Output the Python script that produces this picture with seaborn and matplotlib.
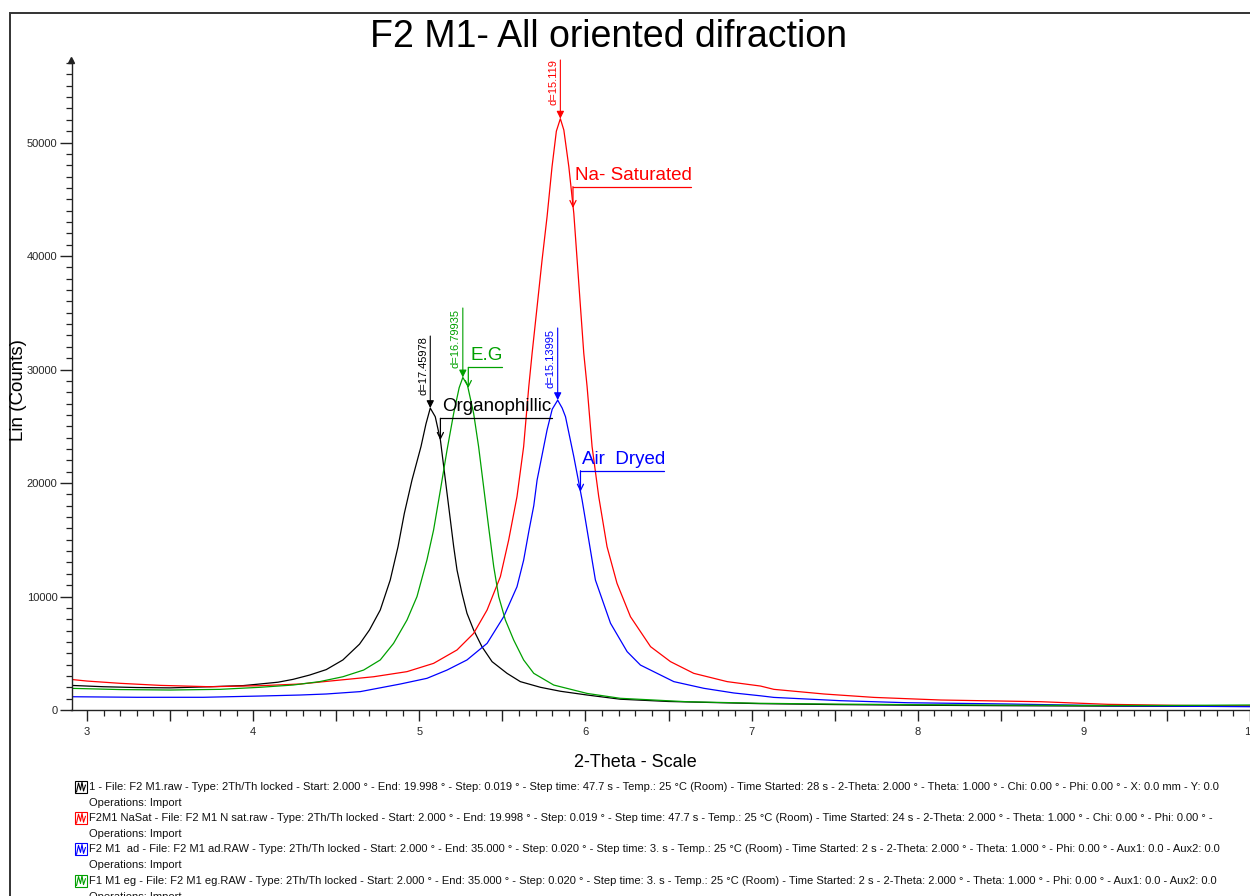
import numpy as np
import pandas as pd
import matplotlib
matplotlib.use("Agg")
import matplotlib.pyplot as plt
import seaborn as sns
from matplotlib.patches import Rectangle
from matplotlib.lines import Line2D
from matplotlib.ticker import MultipleLocator
from matplotlib.transforms import offset_copy

# ---------------- scan data (2-Theta in degrees, Lin counts) ----------------
organo_2theta = [2.90, 3.10, 3.30, 3.50, 3.74, 3.94, 4.04, 4.15, 4.24, 4.34, 4.44,
                 4.54, 4.64, 4.70, 4.765, 4.825, 4.872, 4.91, 4.956, 5.01, 5.04,
                 5.066, 5.096, 5.127, 5.147, 5.167, 5.187, 5.207, 5.227, 5.257,
                 5.287, 5.327, 5.377, 5.438, 5.528, 5.608, 5.729, 5.85, 6.01,
                 6.21, 6.50, 7.05, 7.50, 8.00, 8.50, 9.00, 9.50, 10.0]
organo_counts = [2170, 2050, 1980, 1950, 2050, 2150, 2290, 2450, 2700, 3080, 3560,
                 4410, 5800, 7050, 8810, 11450, 14390, 17330, 20260, 23200, 25200,
                 26600, 25840, 23790, 21440, 19090, 16740, 14390, 12330, 10280,
                 8520, 7050, 5580, 4260, 3230, 2500, 2000, 1650, 1320,
                 950, 750, 560, 480, 420, 380, 350, 330, 340]

nasat_2theta = [2.90, 3.00, 3.20, 3.44, 3.74, 4.04, 4.283, 4.524, 4.725, 4.926,
                5.086, 5.227, 5.327, 5.408, 5.488, 5.538, 5.588, 5.628, 5.659,
                5.679, 5.709, 5.739, 5.769, 5.799, 5.825, 5.849, 5.87, 5.90, 5.93,
                5.95, 5.97, 5.99, 6.01, 6.04, 6.08, 6.13, 6.19, 6.271, 6.392,
                6.512, 6.652, 6.853, 7.054, 7.134, 7.436, 7.737, 8.139, 8.741,
                9.143, 9.545, 10.0]
nasat_counts = [2700, 2550, 2350, 2170, 2050, 2140, 2290, 2640, 2930, 3380,
                4110, 5290, 6750, 8810, 11750, 14980, 18800, 23200, 28490,
                31430, 35530, 39650, 43460, 47870, 51000, 52100, 51100, 47870, 43760,
                39650, 35530, 31430, 28490, 23200, 18800, 14390, 11160, 8220, 5580,
                4260, 3230, 2500, 2110, 1820, 1410, 1110, 880, 730,
                500, 410, 350]

airdry_2theta = [2.90, 3.30, 3.70, 4.04, 4.283, 4.44, 4.645, 4.886, 5.046, 5.167,
                 5.287, 5.408, 5.508, 5.588, 5.628, 5.66, 5.689, 5.709, 5.729,
                 5.769, 5.80, 5.833, 5.86, 5.88, 5.93, 5.98, 6.02, 6.06, 6.151,
                 6.251, 6.331, 6.452, 6.532, 6.713, 6.893, 7.054, 7.134, 7.536,
                 7.938, 8.54, 9.143, 10.0]
airdry_counts = [1170, 1120, 1120, 1230, 1320, 1410, 1620, 2290, 2790, 3520,
                 4410, 5870, 8220, 10860, 13200, 15800, 18000, 20260, 21730,
                 24670, 26500, 27300, 26600, 25840, 22320, 18500, 14980, 11450, 7640,
                 5140, 3960, 3080, 2500, 1910, 1500, 1250, 1110, 820,
                 640, 530, 380, 290]

eg_2theta = [2.90, 3.20, 3.50, 3.80, 4.04, 4.24, 4.40, 4.54, 4.665, 4.765, 4.845,
             4.926, 4.986, 5.046, 5.086, 5.127, 5.167, 5.207, 5.24, 5.262, 5.29,
             5.327, 5.357, 5.387, 5.417, 5.448, 5.478, 5.518, 5.568, 5.628,
             5.689, 5.809, 6.01, 6.21, 6.61, 7.05, 7.50, 8.00, 8.50, 9.00,
             9.50, 10.0]
eg_counts = [1910, 1800, 1760, 1820, 2000, 2200, 2500, 2930, 3520, 4410, 5870,
             7930, 9990, 13220, 15860, 19380, 22910, 26140, 28400, 29300, 28600,
             26140, 23200, 19680, 16150, 12630, 9990, 7930, 6170, 4410,
             3230, 2200, 1460, 1030, 730, 590, 520, 470, 430, 400,
             400, 440]

sample_ids = ["organo", "nasat", "airdry", "eg"]
sample_colors = {"organo": "#000000", "nasat": "#ff0000",
                 "airdry": "#0000ff", "eg": "#00a000"}
peak_d_labels = {"organo": "d=17.45978", "nasat": "d=15.119",
                 "airdry": "d=15.13995", "eg": "d=16.79935"}
callout_labels = {"organo": "Organophillic", "nasat": "Na- Saturated",
                  "airdry": "Air  Dryed", "eg": "E.G"}

title_text = "F2 M1- All oriented difraction"
x_label_text = "2-Theta - Scale"
y_label_text = "Lin (Counts)"
x_tick_values = [3, 4, 5, 6, 7, 8, 9, 10]
y_tick_values = [0, 10000, 20000, 30000, 40000, 50000]

scan_info = [
    "1 - File: F2 M1.raw - Type: 2Th/Th locked - Start: 2.000 \u00b0 - End: 19.998 \u00b0 - Step: 0.019 \u00b0 - Step time: 47.7 s - Temp.: 25 \u00b0C (Room) - Time Started: 28 s - 2-Theta: 2.000 \u00b0 - Theta: 1.000 \u00b0 - Chi: 0.00 \u00b0 - Phi: 0.00 \u00b0 - X: 0.0 mm - Y: 0.0",
    "F2M1 NaSat - File: F2 M1 N sat.raw - Type: 2Th/Th locked - Start: 2.000 \u00b0 - End: 19.998 \u00b0 - Step: 0.019 \u00b0 - Step time: 47.7 s - Temp.: 25 \u00b0C (Room) - Time Started: 24 s - 2-Theta: 2.000 \u00b0 - Theta: 1.000 \u00b0 - Chi: 0.00 \u00b0 - Phi: 0.00 \u00b0 -",
    "F2 M1  ad - File: F2 M1 ad.RAW - Type: 2Th/Th locked - Start: 2.000 \u00b0 - End: 35.000 \u00b0 - Step: 0.020 \u00b0 - Step time: 3. s - Temp.: 25 \u00b0C (Room) - Time Started: 2 s - 2-Theta: 2.000 \u00b0 - Theta: 1.000 \u00b0 - Phi: 0.00 \u00b0 - Aux1: 0.0 - Aux2: 0.0",
    "F1 M1 eg - File: F2 M1 eg.RAW - Type: 2Th/Th locked - Start: 2.000 \u00b0 - End: 35.000 \u00b0 - Step: 0.020 \u00b0 - Step time: 3. s - Temp.: 25 \u00b0C (Room) - Time Started: 2 s - 2-Theta: 2.000 \u00b0 - Theta: 1.000 \u00b0 - Phi: 0.00 \u00b0 - Aux1: 0.0 - Aux2: 0.0",
]
operations_text = "Operations: Import"

# ---------------- figure setup ----------------
sns.set_style("white")
plt.rcParams["font.family"] = ["Liberation Sans", "DejaVu Sans"]

W, H = 1250, 896
fig = plt.figure(figsize=(W / 100, H / 100), dpi=100)
fig.patch.set_facecolor("white")


def fx(px):
    return px / W


def fy(py):
    return 1 - py / H


ax_left, ax_bottom, ax_right, ax_top = 71.5, 710, 1250, 60
ax = fig.add_axes([fx(ax_left), fy(ax_bottom), fx(ax_right - ax_left),
                   (ax_bottom - ax_top) / H])
ax.set_facecolor("white")

series = {
    "organo": (organo_2theta, organo_counts),
    "nasat": (nasat_2theta, nasat_counts),
    "airdry": (airdry_2theta, airdry_counts),
    "eg": (eg_2theta, eg_counts),
}
frames = [pd.DataFrame({"two_theta": xs, "counts": ys, "sample": sid})
          for sid, (xs, ys) in series.items()]
df = pd.concat(frames, ignore_index=True)

sns.lineplot(data=df, x="two_theta", y="counts", hue="sample",
             hue_order=sample_ids, palette=sample_colors, estimator=None,
             sort=False, legend=False, linewidth=0.9, ax=ax)

x_min, x_max = 2.9066, 10.0
y_min, y_max = 0, 57270
ax.set_xlim(x_min, x_max)
ax.set_ylim(y_min, y_max)
ax.set_xlabel("")
ax.set_ylabel("")

# axes: only left and bottom lines, outward ticks
axis_color = "#222222"
for side in ("top", "right"):
    ax.spines[side].set_visible(False)
for side in ("left", "bottom"):
    ax.spines[side].set_color(axis_color)
    ax.spines[side].set_linewidth(1.0)

half_steps = np.arange(3.0, 10.001, 0.5)
ax.set_xticks(half_steps)
ax.set_xticklabels([f"{v:g}" if v in x_tick_values else "" for v in half_steps])
ax.xaxis.set_minor_locator(MultipleLocator(0.1))
ax.set_yticks(y_tick_values)
ax.set_yticklabels([str(v) for v in y_tick_values])
ax.yaxis.set_minor_locator(MultipleLocator(1000))
ax.tick_params(axis="x", which="major", direction="out", length=8, width=1.0,
               color=axis_color, labelsize=8, pad=4, bottom=True)
ax.tick_params(axis="x", which="minor", direction="out", length=4.5, width=0.9,
               color=axis_color, bottom=True)
ax.tick_params(axis="y", which="major", direction="out", length=8.5, width=1.0,
               color=axis_color, labelsize=8, pad=1.5, left=True)
ax.tick_params(axis="y", which="minor", direction="out", length=4.3, width=0.9,
               color=axis_color, left=True)
ax.grid(False)

# arrow head on the top of the y axis
ax.plot([x_min], [y_max], marker="^", ms=4.5, color=axis_color, clip_on=False)

# ---------------- peak d-spacing markers ----------------
d_text_bottom = {"organo": 27750, "nasat": 53300, "airdry": 28370, "eg": 30130}
d_line_top = {"organo": 32950, "nasat": y_max, "airdry": 33660, "eg": 35420}
text_shift = offset_copy(ax.transData, fig=fig, x=-2, y=0, units="dots")
for sid in sample_ids:
    xs, ys = series[sid]
    i = int(np.argmax(ys))
    c = sample_colors[sid]
    ax.annotate("", xy=(xs[i], ys[i]), xytext=(xs[i], d_line_top[sid]),
                arrowprops=dict(arrowstyle="-|>", color=c, lw=0.8,
                                mutation_scale=11, shrinkA=0, shrinkB=0))
    ax.text(xs[i], d_text_bottom[sid], peak_d_labels[sid], rotation=90,
            ha="right", va="bottom", fontsize=8, color=c,
            transform=text_shift, clip_on=True)

# ---------------- sample callouts ----------------
# (elbow x, shelf end x, shelf y, arrow tip y)
callout_geom = {
    "organo": (5.127, 5.799, 25700, 23790),
    "eg": (5.295, 5.498, 30190, 28370),
    "airdry": (5.970, 6.470, 21080, 19230),
    "nasat": (5.925, 6.636, 46110, 44230),
}
label_shift = offset_copy(ax.transData, fig=fig, x=2, y=3, units="dots")
for sid, (x0, x1, ys_, ytip) in callout_geom.items():
    c = sample_colors[sid]
    ax.plot([x0, x1], [ys_, ys_], color=c, lw=0.9)
    ax.annotate("", xy=(x0, ytip), xytext=(x0, ys_),
                arrowprops=dict(arrowstyle="->", color=c, lw=0.9,
                                mutation_scale=11, shrinkA=0, shrinkB=0))
    ax.text(x0, ys_, callout_labels[sid], ha="left", va="bottom",
            fontsize=13.5, color=c, transform=label_shift)

# ---------------- titles ----------------
fig.text(fx(608), fy(47), title_text, ha="center", va="baseline",
         fontsize=27, color="black")
fig.text(fx(19), fy(390), y_label_text, ha="center", va="center",
         rotation=90, fontsize=13.5, color="black")
fig.text(fx(635), fy(762), x_label_text, ha="center", va="center",
         fontsize=13, color="black")

# ---------------- scan info block ----------------
row_y0, row_step, sub_step = 787, 31.2, 16.0
for k, sid in enumerate(sample_ids):
    yc = row_y0 + k * row_step
    c = sample_colors[sid]
    fig.add_artist(Rectangle((fx(75), fy(yc + 6)), fx(12), 12 / H, fill=False,
                             ec=c, lw=0.8, transform=fig.transFigure))
    zx = [76.5, 78.5, 80.5, 82.0, 83.5, 85.5]
    zy = [yc + 5, yc - 4, yc + 3, yc - 5, yc + 4, yc - 2]
    fig.add_artist(Line2D([fx(v) for v in zx], [fy(v) for v in zy], color=c,
                          lw=0.8, transform=fig.transFigure))
    fig.text(fx(89), fy(yc), scan_info[k], ha="left", va="center",
             fontsize=8.05, color="#111111")
    fig.text(fx(89), fy(yc + sub_step), operations_text, ha="left",
             va="center", fontsize=8.05, color="#111111")

# outer frame around the page
fig.add_artist(Rectangle((fx(10), -0.2), 1.3, fy(13) + 0.2, fill=False,
                         ec="#333333", lw=1.4, transform=fig.transFigure))

fig.savefig("out.png", dpi=100, facecolor="white")
